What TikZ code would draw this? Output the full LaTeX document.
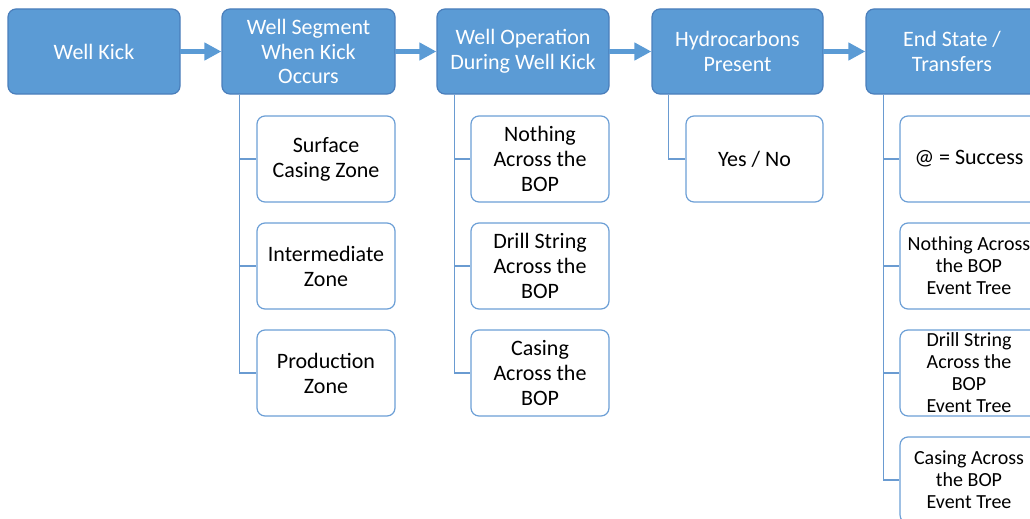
\documentclass[tikz,border=0pt]{standalone}
\usepackage{fontspec}
\setmainfont{Carlito}
\usetikzlibrary{arrows.meta,calc}
\definecolor{hfill}{HTML}{5B9BD5}
\definecolor{hdraw}{HTML}{4A7EBB}
\definecolor{cdraw}{HTML}{6C9FD6}
\definecolor{lnk}{HTML}{6A9BD1}
\tikzset{
  hbox/.style={draw=hdraw, fill=hfill, line width=1.2pt, rounded corners=8pt,
    minimum width=172pt, minimum height=85pt, inner sep=0pt, align=center,
    text=white, font=\fontsize{22pt}{24.5pt}\selectfont},
  cbox/.style={draw=cdraw, fill=white, line width=1.2pt, rounded corners=8pt,
    minimum width=138pt, minimum height=86pt, inner sep=0pt, align=center,
    text=black, font=\fontsize{22pt}{25pt}\selectfont},
  sbox/.style={cbox, font=\fontsize{20pt}{22pt}\selectfont},
  flow/.style={draw=hfill, line width=5pt, -{Triangle[length=17pt,width=17pt]}, shorten <=-0.6pt},
  link/.style={draw=lnk, line width=1.5pt}
}
\begin{document}
\begin{tikzpicture}[x=1pt,y=-1pt]
\useasboundingbox (0,0) rectangle (1030,519);
\clip (0,0) rectangle (1030,519);
% headers
\node[hbox] (h1) at (94,51.5) {Well Kick};
\node[hbox, minimum width=173pt] (h2) at (308.5,51.5) {Well Segment\\When Kick\\Occurs};
\node[hbox] (h3) at (523,51.5) {Well Operation\\During Well Kick};
\node[hbox, minimum width=171pt] (h4) at (737.5,51.5) {Hydrocarbons\\Present};
\node[hbox] (h5) at (952,51.5) {End State /\\Transfers};
% flow arrows
\draw[flow] (h1.east) -- (h2.west);
\draw[flow] (h2.east) -- (h3.west);
\draw[flow] (h3.east) -- (h4.west);
\draw[flow] (h4.east) -- (h5.west);
% column 2
\node[cbox] (c21) at (326,159) {Surface\\Casing Zone};
\node[cbox] (c22) at (326,266) {Intermediate\\Zone};
\node[cbox] (c23) at (326,373) {Production\\Zone};
% column 3
\node[cbox] (c31) at (540,159) {Nothing\\Across the\\BOP};
\node[cbox] (c32) at (540,266) {Drill String\\Across the\\BOP};
\node[cbox] (c33) at (540,373) {Casing\\Across the\\BOP};
% column 4
\node[cbox, minimum width=137pt] (c41) at (754.5,159) {Yes / No};
% column 5
\node[cbox] (c51) at (969,159) {@ = Success};
\node[sbox] (c52) at (969,266) {Nothing Across\\the BOP\\Event Tree};
\node[sbox] (c53) at (969,373) {Drill String\\Across the\\BOP\\Event Tree};
\node[sbox] (c54) at (969,480) {Casing Across\\the BOP\\Event Tree};
% connectors
\coordinate (v2) at ($(h2.south west)+(18,0)$);
\coordinate (v3) at ($(h3.south west)+(18,0)$);
\coordinate (v4) at ($(h4.south west)+(17,0)$);
\coordinate (v5) at ($(h5.south west)+(18,0)$);
\foreach \c in {c21,c22,c23} \draw[link] (v2) |- (\c.west);
\foreach \c in {c31,c32,c33} \draw[link] (v3) |- (\c.west);
\draw[link] (v4) |- (c41.west);
\foreach \c in {c51,c52,c53,c54} \draw[link] (v5) |- (\c.west);
\end{tikzpicture}
\end{document}
